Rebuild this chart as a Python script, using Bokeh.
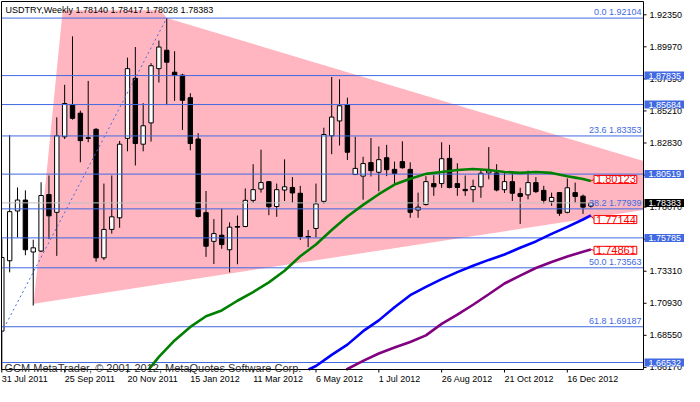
import math
from bokeh.plotting import figure
from bokeh.models import Range1d, Label
from bokeh.core.properties import value
from bokeh.embed import file_html
from bokeh.resources import INLINE

# ---------------- data ----------------
header = "USDTRY,Weekly  1.78140 1.78417 1.78028 1.78383"
copyright_text = "GCM MetaTrader, \u00a9 2001-2012, MetaQuotes Software Corp."

date_ticks = [0, 8, 16, 24, 32, 40, 48, 56, 64, 72]
date_labels = ["31 Jul 2011", "25 Sep 2011", "20 Nov 2011", "15 Jan 2012", "11 Mar 2012",
               "6 May 2012", "1 Jul 2012", "26 Aug 2012", "21 Oct 2012", "16 Dec 2012"]
price_ticks = [1.66170, 1.68550, 1.70930, 1.73310, 1.75690, 1.78070,
               1.80450, 1.82830, 1.85210, 1.87590, 1.89970, 1.92350]

opens = [1.68864, 1.74089, 1.77780, 1.78595, 1.74736, 1.74808, 1.79003, 1.77684, 1.83293, 1.85689,
         1.85042, 1.83221, 1.83844, 1.74305, 1.76414, 1.77277, 1.83173, 1.87631, 1.82741, 1.84323,
         1.88350, 1.89716, 1.88086, 1.87870, 1.86193, 1.83125, 1.77660, 1.75527, 1.75983, 1.74904,
         1.76630, 1.76630, 1.78571, 1.79410, 1.79961, 1.78116, 1.79338, 1.79530, 1.79098, 1.75887,
         1.76486, 1.78499, 1.83365, 1.84467, 1.85665, 1.80488, 1.80369, 1.81375, 1.80656, 1.81735,
         1.80872, 1.81447, 1.80872, 1.77852, 1.78260, 1.79817, 1.79817, 1.81687, 1.79817, 1.79386,
         1.79362, 1.79578, 1.80608, 1.80608, 1.79362, 1.79961, 1.79074, 1.78979, 1.79889, 1.79314,
         1.78499, 1.79146, 1.77684, 1.79146, 1.78883, 1.78140]
highs = [1.75695, 1.83412, 1.79530, 1.79314, 1.75647, 1.79913, 1.80417, 1.84731, 1.87151, 1.90746,
         1.85234, 1.87439, 1.83940, 1.79817, 1.80417, 1.82981, 1.89165, 1.89955, 1.85785, 1.88757,
         1.90435, 1.92104, 1.89644, 1.87966, 1.86528, 1.83557, 1.79266, 1.77181, 1.77972, 1.76941,
         1.77445, 1.79458, 1.81255, 1.82334, 1.80009, 1.79817, 1.81615, 1.80297, 1.79650, 1.76366,
         1.79817, 1.83964, 1.87727, 1.87559, 1.86193, 1.83293, 1.81807, 1.83197, 1.82574, 1.82694,
         1.81447, 1.82957, 1.81399, 1.79146, 1.80369, 1.80441, 1.82885, 1.82694, 1.81327, 1.80417,
         1.80105, 1.80872, 1.82526, 1.81255, 1.80728, 1.80608, 1.79506, 1.80776, 1.80297, 1.79650,
         1.79146, 1.79194, 1.80201, 1.79889, 1.79002, 1.78417]
lows = [1.65500, 1.73226, 1.75815, 1.74497, 1.70758, 1.74736, 1.75695, 1.74449, 1.83125, 1.84563,
        1.81399, 1.82885, 1.74017, 1.74137, 1.76103, 1.76534, 1.82214, 1.81160, 1.82214, 1.82933,
        1.87319, 1.85641, 1.85953, 1.83796, 1.82286, 1.77300, 1.74377, 1.73850, 1.74976, 1.73226,
        1.73826, 1.76582, 1.78379, 1.79146, 1.77469, 1.77349, 1.78523, 1.78404, 1.75623, 1.75096,
        1.75815, 1.78331, 1.81998, 1.82646, 1.81567, 1.80488, 1.78619, 1.80345, 1.79242, 1.80369,
        1.79817, 1.80920, 1.77277, 1.77277, 1.78188, 1.78907, 1.79506, 1.79458, 1.78907, 1.78907,
        1.78404, 1.78763, 1.80129, 1.79242, 1.79122, 1.78523, 1.76822, 1.78643, 1.79122, 1.78331,
        1.78164, 1.77421, 1.77612, 1.78404, 1.77565, 1.78028]
closes = [1.74329, 1.77732, 1.78595, 1.74904, 1.75048, 1.78931, 1.77421, 1.83365, 1.85761, 1.84659,
          1.83005, 1.83173, 1.74305, 1.76414, 1.77349, 1.82741, 1.88350, 1.82789, 1.84108, 1.88565,
          1.89955, 1.88829, 1.87846, 1.86001, 1.82789, 1.77373, 1.75168, 1.76103, 1.75288, 1.76582,
          1.76582, 1.78571, 1.79362, 1.79889, 1.78092, 1.79362, 1.79578, 1.79122, 1.75887, 1.75839,
          1.78307, 1.83460, 1.84755, 1.85593, 1.82142, 1.80944, 1.81303, 1.80776, 1.81591, 1.80848,
          1.80560, 1.80992, 1.77684, 1.78068, 1.79961, 1.79578, 1.81663, 1.79530, 1.79530, 1.79290,
          1.79602, 1.80584, 1.80752, 1.79338, 1.79961, 1.79098, 1.78859, 1.79889, 1.79218, 1.78571,
          1.78787, 1.77612, 1.79506, 1.78859, 1.78068, 1.78383]

ma_green_idx = [18, 19, 20, 22, 24, 26, 28, 30, 32, 34, 36, 38, 40, 42, 44, 46, 48, 50, 52, 54,
                56, 58, 60, 62, 64, 66, 68, 70, 72, 73, 74, 75]
ma_green = [1.6551, 1.66228, 1.66947, 1.68170, 1.69176, 1.69967, 1.70399, 1.71118, 1.71765, 1.72484,
            1.73347, 1.74425, 1.75288, 1.76366, 1.77373, 1.78236, 1.79027, 1.79746, 1.80177, 1.80537,
            1.80681, 1.80825, 1.80896, 1.80825, 1.80681, 1.80609, 1.80681, 1.80609, 1.8036, 1.8026,
            1.8015, 1.8000]
ma_blue_idx = [39, 40, 42, 44, 46, 48, 50, 52, 54, 56, 58, 60, 62, 64, 66, 68, 70, 72, 74, 75]
ma_blue = [1.6600, 1.6627, 1.6710, 1.6786, 1.6886, 1.6966, 1.7064, 1.7153, 1.7215, 1.7272,
           1.7324, 1.7372, 1.7415, 1.7455, 1.7505, 1.7552, 1.7608, 1.7660, 1.7715, 1.7745]
ma_purple_idx = [43, 44, 46, 48, 50, 52, 54, 56, 58, 60, 62, 64, 66, 68, 70, 72, 74, 75]
ma_purple = [1.6580, 1.6605, 1.6665, 1.6720, 1.6765, 1.6806, 1.6855, 1.6940, 1.7008, 1.7082,
             1.7160, 1.7240, 1.7298, 1.7355, 1.7400, 1.7440, 1.7476, 1.7493]
ma_labels = [1.80123, 1.77144, 1.74861]

fib_ratios = ["0.0", "23.6", "38.2", "50.0", "61.8"]
fib_prices = [1.92104, 1.83353, 1.77939, 1.73563, 1.69187]
fib_anchor_x = [-12.4, 21]
fib_anchor_y = [1.55023, 1.92104]
marked_levels = [1.87835, 1.85684, 1.80519, 1.75785, 1.66532]
bid_price = 1.78383

triangle_x = [4.05, 7.75, 20.2, 21, 95.4]
triangle_y = [1.7090, 1.92688, 1.92688, 1.92104, 1.7909]

# ---------------- layout / styles ----------------
FONT = "Liberation Sans"
ROYAL = "#4169E1"
W, H = 684, 386   # page = 8px margin + canvas + 8px margin fits 700 x 402
SCALE_W = 41      # price scale strip on the right (px)
BOTTOM_H = 17     # date scale strip (px)
CHART_W = W - SCALE_W - 1
CHART_H = H - BOTTOM_H - 1
X0, X1 = -0.04, 81.7          # visible bar window
Y0, Y1 = 1.66013, 1.93335     # visible price window
bx = (X1 - X0) / CHART_W
by = (Y1 - Y0) / CHART_H
XR0, XR1 = X0 - bx, X1 + SCALE_W * bx
YR0, YR1 = Y0 - BOTTOM_H * by, Y1 + by


def clip_right(xs, ys, xmax):
    """Clip a closed polygon to x <= xmax (one Sutherland-Hodgman pass)."""
    ox, oy = [], []
    n = len(xs)
    for k in range(n):
        ax, ay = xs[k], ys[k]
        cx, cy = xs[(k + 1) % n], ys[(k + 1) % n]
        a_in, c_in = ax <= xmax, cx <= xmax
        if a_in:
            ox.append(ax); oy.append(ay)
        if a_in != c_in:
            t = (xmax - ax) / (cx - ax)
            ox.append(xmax); oy.append(ay + t * (cy - ay))
    return ox, oy


def clip_line(xs, ys):
    """Clip a polyline to the chart window (Liang-Barsky per segment)."""
    ox, oy = [], []
    for k in range(len(xs) - 1):
        xa, ya, xb, yb = xs[k], ys[k], xs[k + 1], ys[k + 1]
        dx, dy = xb - xa, yb - ya
        t0, t1 = 0.0, 1.0
        ok = True
        for pp, qq in ((-dx, xa - X0), (dx, X1 - xa), (-dy, ya - Y0), (dy, Y1 - ya)):
            if pp == 0:
                if qq < 0:
                    ok = False
            else:
                r = qq / pp
                if pp < 0:
                    t0 = max(t0, r)
                else:
                    t1 = min(t1, r)
        if not ok or t0 > t1:
            continue
        pa = (xa + t0 * dx, ya + t0 * dy)
        pb = (xa + t1 * dx, ya + t1 * dy)
        if not ox or (abs(ox[-1] - pa[0]) > 1e-9 or abs(oy[-1] - pa[1]) > 1e-12):
            ox.append(pa[0]); oy.append(pa[1])
        ox.append(pb[0]); oy.append(pb[1])
    return ox, oy


p = figure(width=W, height=H, x_range=Range1d(XR0, XR1), y_range=Range1d(YR0, YR1),
           output_backend="svg", toolbar_location=None,
           x_axis_location=None, y_axis_location=None,
           min_border_left=0, min_border_right=0, min_border_top=0, min_border_bottom=0)
p.background_fill_color = "white"
p.border_fill_color = "white"
p.outline_line_color = None
p.grid.visible = False

# triangle (background), clipped at the price scale
tx, ty = clip_right(triangle_x, triangle_y, X1)
p.patch(tx, ty, fill_color="#FFB6C1", line_color=None)

# candles
idx = list(range(len(opens)))
half = 0.28
wick_low = [max(v, Y0) for v in lows]
p.segment(x0=idx, y0=wick_low, x1=idx, y1=highs, line_color="black", line_width=1)
up = [i for i in idx if closes[i] >= opens[i]]
dn = [i for i in idx if closes[i] < opens[i]]
p.quad(left=[max(i - half, X0) for i in up], right=[i + half for i in up],
       top=[closes[i] for i in up], bottom=[opens[i] for i in up],
       fill_color="white", line_color="black", line_width=1)
p.quad(left=[max(i - half, X0) for i in dn], right=[i + half for i in dn],
       top=[opens[i] for i in dn], bottom=[closes[i] for i in dn],
       fill_color="black", line_color="black", line_width=1)

# bid line and horizontal levels (stop at the price scale)
levels = fib_prices + marked_levels
p.segment(x0=[X0], y0=[bid_price], x1=[X1], y1=[bid_price], line_color="#C0C0C0", line_width=1)
p.segment(x0=[X0] * len(levels), y0=levels, x1=[X1] * len(levels), y1=levels,
          line_color=ROYAL, line_width=1)

# fibo trend line
fx, fy = clip_line(fib_anchor_x, fib_anchor_y)
p.line(fx, fy, line_color=ROYAL, line_width=1, line_dash="2 3")

# moving averages
for xs, ys, col in ((ma_green_idx, ma_green, "#008000"),
                    (ma_blue_idx, ma_blue, "#0000FF"),
                    (ma_purple_idx, ma_purple, "#800080")):
    cx, cy = clip_line(xs, ys)
    p.line(cx, cy, line_color=col, line_width=2.6)

# MA value connectors
last = idx[-1]
ends = [ma_green[-1], ma_blue[-1], ma_purple[-1]]
p.segment(x0=[last] * 3, y0=ends, x1=[last + 0.4] * 3, y1=ma_labels, line_color="red", line_width=1)

# chart border
p.quad(left=[X0], right=[X1], bottom=[Y0], top=[Y1], fill_color=None, line_color="black", line_width=1)

# price scale: ticks + labels
p.ray(x=[X1] * len(price_ticks), y=price_ticks, length=3, length_units="screen", angle=0,
      line_color="black", line_width=1)
p.text(x=[X1] * len(price_ticks), y=price_ticks, text=[f"{t:.5f}" for t in price_ticks],
       x_offset=6, text_align="left", text_baseline="middle", text_font=value(FONT),
       text_font_size="9px", text_color="black")

# date scale: ticks + labels (label starts at its tick)
p.ray(x=date_ticks, y=[Y0] * len(date_ticks), length=3, length_units="screen",
      angle=-math.pi / 2, line_color="black", line_width=1)
p.text(x=date_ticks, y=[Y0] * len(date_ticks), text=date_labels, x_offset=0, y_offset=4,
       text_align="left", text_baseline="top", text_font=value(FONT),
       text_font_size="9px", text_color="black")

for v in ma_labels:
    p.add_layout(Label(x=last + 0.4, y=v, text=f"{v:.5f}", text_font=FONT, text_font_size="11px",
                       text_color="red", text_align="left", text_baseline="middle",
                       background_fill_color="white", border_line_color="red", border_line_width=1,
                       padding=dict(left=2, right=1, top=0, bottom=0)))

for r, v in zip(fib_ratios, fib_prices):
    p.add_layout(Label(x=X1, y=v, x_offset=-2, y_offset=1, text=f"{r} {v:.5f}", text_font=FONT,
                       text_font_size="9px", text_color=ROYAL, text_align="right",
                       text_baseline="bottom"))

p.add_layout(Label(x=X0, y=Y1, x_offset=4, y_offset=-3, text=header, text_font=FONT,
                   text_font_size="9px", text_color="black", text_baseline="top"))
p.add_layout(Label(x=X0, y=Y0, x_offset=3, y_offset=2, text=copyright_text, text_font=FONT,
                   text_font_size="11px", text_color="#303030", text_baseline="alphabetic"))

for v in marked_levels:
    p.add_layout(Label(x=X1, y=v, x_offset=1, text=f"{v:.5f}", text_font=FONT, text_font_size="9px",
                       text_color="white", text_align="left", text_baseline="middle",
                       background_fill_color=ROYAL,
                       padding=dict(left=4, right=10, top=1, bottom=1)))
p.add_layout(Label(x=X1, y=bid_price, x_offset=1, text=f"{bid_price:.5f}", text_font=FONT,
                   text_font_size="9px", text_color="white", text_align="left", text_baseline="middle",
                   background_fill_color="black", padding=dict(left=4, right=10, top=1, bottom=1)))

open("out.html", "w").write(file_html(p, INLINE))
